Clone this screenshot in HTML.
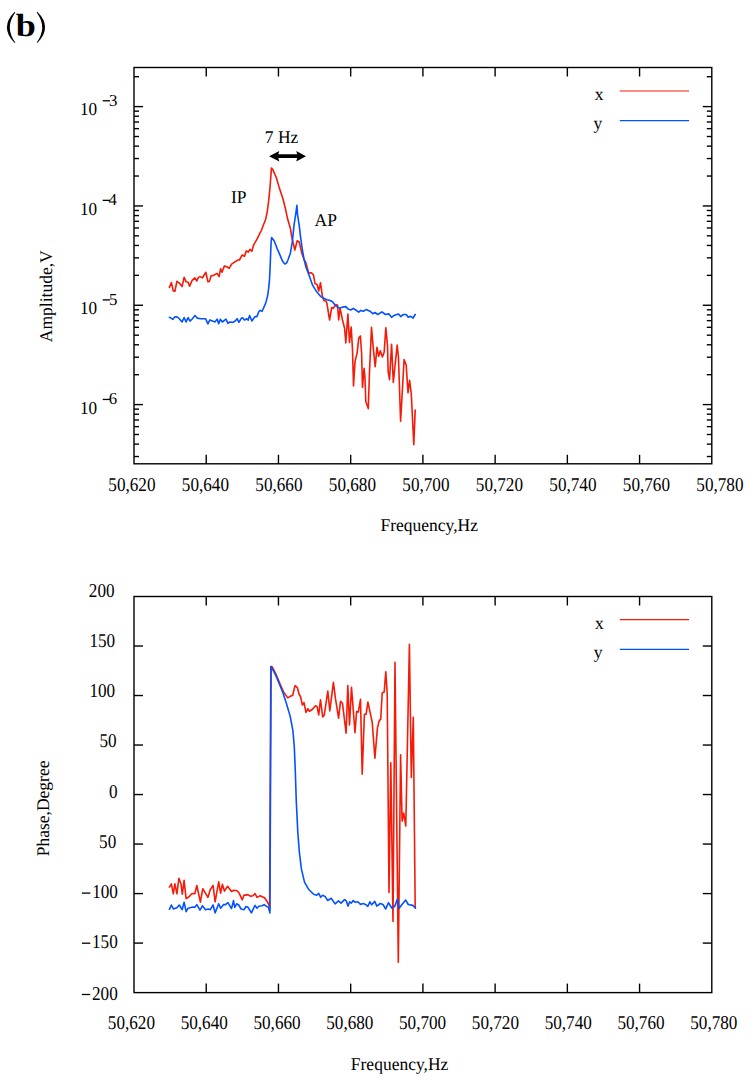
<!DOCTYPE html>
<html><head><meta charset="utf-8"><style>
html,body{margin:0;padding:0;background:#fff;}
svg{display:block;font-family:"Liberation Serif",serif;text-rendering:geometricPrecision;}
</style></head><body>
<svg width="755" height="1082" viewBox="0 0 755 1082">
<rect width="755" height="1082" fill="#fff"/>
<rect x="134" y="67.5" width="577.8" height="396.3" fill="none" stroke="#000" stroke-width="1.4"/>
<line x1="206.22" y1="463.8" x2="206.22" y2="454.8" stroke="#000" stroke-width="1.4"/>
<line x1="206.22" y1="67.5" x2="206.22" y2="76.5" stroke="#000" stroke-width="1.4"/>
<line x1="278.45" y1="463.8" x2="278.45" y2="454.8" stroke="#000" stroke-width="1.4"/>
<line x1="278.45" y1="67.5" x2="278.45" y2="76.5" stroke="#000" stroke-width="1.4"/>
<line x1="350.67" y1="463.8" x2="350.67" y2="454.8" stroke="#000" stroke-width="1.4"/>
<line x1="350.67" y1="67.5" x2="350.67" y2="76.5" stroke="#000" stroke-width="1.4"/>
<line x1="422.9" y1="463.8" x2="422.9" y2="454.8" stroke="#000" stroke-width="1.4"/>
<line x1="422.9" y1="67.5" x2="422.9" y2="76.5" stroke="#000" stroke-width="1.4"/>
<line x1="495.12" y1="463.8" x2="495.12" y2="454.8" stroke="#000" stroke-width="1.4"/>
<line x1="495.12" y1="67.5" x2="495.12" y2="76.5" stroke="#000" stroke-width="1.4"/>
<line x1="567.35" y1="463.8" x2="567.35" y2="454.8" stroke="#000" stroke-width="1.4"/>
<line x1="567.35" y1="67.5" x2="567.35" y2="76.5" stroke="#000" stroke-width="1.4"/>
<line x1="639.57" y1="463.8" x2="639.57" y2="454.8" stroke="#000" stroke-width="1.4"/>
<line x1="639.57" y1="67.5" x2="639.57" y2="76.5" stroke="#000" stroke-width="1.4"/>
<rect x="134" y="596.5" width="577.8" height="396.1" fill="none" stroke="#000" stroke-width="1.4"/>
<line x1="206.22" y1="992.6" x2="206.22" y2="983.6" stroke="#000" stroke-width="1.4"/>
<line x1="206.22" y1="596.5" x2="206.22" y2="605.5" stroke="#000" stroke-width="1.4"/>
<line x1="278.45" y1="992.6" x2="278.45" y2="983.6" stroke="#000" stroke-width="1.4"/>
<line x1="278.45" y1="596.5" x2="278.45" y2="605.5" stroke="#000" stroke-width="1.4"/>
<line x1="350.67" y1="992.6" x2="350.67" y2="983.6" stroke="#000" stroke-width="1.4"/>
<line x1="350.67" y1="596.5" x2="350.67" y2="605.5" stroke="#000" stroke-width="1.4"/>
<line x1="422.9" y1="992.6" x2="422.9" y2="983.6" stroke="#000" stroke-width="1.4"/>
<line x1="422.9" y1="596.5" x2="422.9" y2="605.5" stroke="#000" stroke-width="1.4"/>
<line x1="495.12" y1="992.6" x2="495.12" y2="983.6" stroke="#000" stroke-width="1.4"/>
<line x1="495.12" y1="596.5" x2="495.12" y2="605.5" stroke="#000" stroke-width="1.4"/>
<line x1="567.35" y1="992.6" x2="567.35" y2="983.6" stroke="#000" stroke-width="1.4"/>
<line x1="567.35" y1="596.5" x2="567.35" y2="605.5" stroke="#000" stroke-width="1.4"/>
<line x1="639.57" y1="992.6" x2="639.57" y2="983.6" stroke="#000" stroke-width="1.4"/>
<line x1="639.57" y1="596.5" x2="639.57" y2="605.5" stroke="#000" stroke-width="1.4"/>
<line x1="134" y1="456.53" x2="139" y2="456.53" stroke="#000" stroke-width="1.4"/>
<line x1="711.8" y1="456.53" x2="706.8" y2="456.53" stroke="#000" stroke-width="1.4"/>
<line x1="134" y1="444.12" x2="139" y2="444.12" stroke="#000" stroke-width="1.4"/>
<line x1="711.8" y1="444.12" x2="706.8" y2="444.12" stroke="#000" stroke-width="1.4"/>
<line x1="134" y1="434.49" x2="139" y2="434.49" stroke="#000" stroke-width="1.4"/>
<line x1="711.8" y1="434.49" x2="706.8" y2="434.49" stroke="#000" stroke-width="1.4"/>
<line x1="134" y1="426.63" x2="139" y2="426.63" stroke="#000" stroke-width="1.4"/>
<line x1="711.8" y1="426.63" x2="706.8" y2="426.63" stroke="#000" stroke-width="1.4"/>
<line x1="134" y1="419.98" x2="139" y2="419.98" stroke="#000" stroke-width="1.4"/>
<line x1="711.8" y1="419.98" x2="706.8" y2="419.98" stroke="#000" stroke-width="1.4"/>
<line x1="134" y1="414.22" x2="139" y2="414.22" stroke="#000" stroke-width="1.4"/>
<line x1="711.8" y1="414.22" x2="706.8" y2="414.22" stroke="#000" stroke-width="1.4"/>
<line x1="134" y1="409.14" x2="139" y2="409.14" stroke="#000" stroke-width="1.4"/>
<line x1="711.8" y1="409.14" x2="706.8" y2="409.14" stroke="#000" stroke-width="1.4"/>
<line x1="134" y1="404.59" x2="143" y2="404.59" stroke="#000" stroke-width="1.4"/>
<line x1="711.8" y1="404.59" x2="702.8" y2="404.59" stroke="#000" stroke-width="1.4"/>
<line x1="134" y1="374.69" x2="139" y2="374.69" stroke="#000" stroke-width="1.4"/>
<line x1="711.8" y1="374.69" x2="706.8" y2="374.69" stroke="#000" stroke-width="1.4"/>
<line x1="134" y1="357.2" x2="139" y2="357.2" stroke="#000" stroke-width="1.4"/>
<line x1="711.8" y1="357.2" x2="706.8" y2="357.2" stroke="#000" stroke-width="1.4"/>
<line x1="134" y1="344.79" x2="139" y2="344.79" stroke="#000" stroke-width="1.4"/>
<line x1="711.8" y1="344.79" x2="706.8" y2="344.79" stroke="#000" stroke-width="1.4"/>
<line x1="134" y1="335.16" x2="139" y2="335.16" stroke="#000" stroke-width="1.4"/>
<line x1="711.8" y1="335.16" x2="706.8" y2="335.16" stroke="#000" stroke-width="1.4"/>
<line x1="134" y1="327.3" x2="139" y2="327.3" stroke="#000" stroke-width="1.4"/>
<line x1="711.8" y1="327.3" x2="706.8" y2="327.3" stroke="#000" stroke-width="1.4"/>
<line x1="134" y1="320.65" x2="139" y2="320.65" stroke="#000" stroke-width="1.4"/>
<line x1="711.8" y1="320.65" x2="706.8" y2="320.65" stroke="#000" stroke-width="1.4"/>
<line x1="134" y1="314.89" x2="139" y2="314.89" stroke="#000" stroke-width="1.4"/>
<line x1="711.8" y1="314.89" x2="706.8" y2="314.89" stroke="#000" stroke-width="1.4"/>
<line x1="134" y1="309.81" x2="139" y2="309.81" stroke="#000" stroke-width="1.4"/>
<line x1="711.8" y1="309.81" x2="706.8" y2="309.81" stroke="#000" stroke-width="1.4"/>
<line x1="134" y1="305.26" x2="143" y2="305.26" stroke="#000" stroke-width="1.4"/>
<line x1="711.8" y1="305.26" x2="702.8" y2="305.26" stroke="#000" stroke-width="1.4"/>
<line x1="134" y1="275.36" x2="139" y2="275.36" stroke="#000" stroke-width="1.4"/>
<line x1="711.8" y1="275.36" x2="706.8" y2="275.36" stroke="#000" stroke-width="1.4"/>
<line x1="134" y1="257.87" x2="139" y2="257.87" stroke="#000" stroke-width="1.4"/>
<line x1="711.8" y1="257.87" x2="706.8" y2="257.87" stroke="#000" stroke-width="1.4"/>
<line x1="134" y1="245.46" x2="139" y2="245.46" stroke="#000" stroke-width="1.4"/>
<line x1="711.8" y1="245.46" x2="706.8" y2="245.46" stroke="#000" stroke-width="1.4"/>
<line x1="134" y1="235.83" x2="139" y2="235.83" stroke="#000" stroke-width="1.4"/>
<line x1="711.8" y1="235.83" x2="706.8" y2="235.83" stroke="#000" stroke-width="1.4"/>
<line x1="134" y1="227.97" x2="139" y2="227.97" stroke="#000" stroke-width="1.4"/>
<line x1="711.8" y1="227.97" x2="706.8" y2="227.97" stroke="#000" stroke-width="1.4"/>
<line x1="134" y1="221.32" x2="139" y2="221.32" stroke="#000" stroke-width="1.4"/>
<line x1="711.8" y1="221.32" x2="706.8" y2="221.32" stroke="#000" stroke-width="1.4"/>
<line x1="134" y1="215.56" x2="139" y2="215.56" stroke="#000" stroke-width="1.4"/>
<line x1="711.8" y1="215.56" x2="706.8" y2="215.56" stroke="#000" stroke-width="1.4"/>
<line x1="134" y1="210.48" x2="139" y2="210.48" stroke="#000" stroke-width="1.4"/>
<line x1="711.8" y1="210.48" x2="706.8" y2="210.48" stroke="#000" stroke-width="1.4"/>
<line x1="134" y1="205.93" x2="143" y2="205.93" stroke="#000" stroke-width="1.4"/>
<line x1="711.8" y1="205.93" x2="702.8" y2="205.93" stroke="#000" stroke-width="1.4"/>
<line x1="134" y1="176.03" x2="139" y2="176.03" stroke="#000" stroke-width="1.4"/>
<line x1="711.8" y1="176.03" x2="706.8" y2="176.03" stroke="#000" stroke-width="1.4"/>
<line x1="134" y1="158.54" x2="139" y2="158.54" stroke="#000" stroke-width="1.4"/>
<line x1="711.8" y1="158.54" x2="706.8" y2="158.54" stroke="#000" stroke-width="1.4"/>
<line x1="134" y1="146.13" x2="139" y2="146.13" stroke="#000" stroke-width="1.4"/>
<line x1="711.8" y1="146.13" x2="706.8" y2="146.13" stroke="#000" stroke-width="1.4"/>
<line x1="134" y1="136.5" x2="139" y2="136.5" stroke="#000" stroke-width="1.4"/>
<line x1="711.8" y1="136.5" x2="706.8" y2="136.5" stroke="#000" stroke-width="1.4"/>
<line x1="134" y1="128.64" x2="139" y2="128.64" stroke="#000" stroke-width="1.4"/>
<line x1="711.8" y1="128.64" x2="706.8" y2="128.64" stroke="#000" stroke-width="1.4"/>
<line x1="134" y1="121.99" x2="139" y2="121.99" stroke="#000" stroke-width="1.4"/>
<line x1="711.8" y1="121.99" x2="706.8" y2="121.99" stroke="#000" stroke-width="1.4"/>
<line x1="134" y1="116.23" x2="139" y2="116.23" stroke="#000" stroke-width="1.4"/>
<line x1="711.8" y1="116.23" x2="706.8" y2="116.23" stroke="#000" stroke-width="1.4"/>
<line x1="134" y1="111.15" x2="139" y2="111.15" stroke="#000" stroke-width="1.4"/>
<line x1="711.8" y1="111.15" x2="706.8" y2="111.15" stroke="#000" stroke-width="1.4"/>
<line x1="134" y1="106.6" x2="143" y2="106.6" stroke="#000" stroke-width="1.4"/>
<line x1="711.8" y1="106.6" x2="702.8" y2="106.6" stroke="#000" stroke-width="1.4"/>
<line x1="134" y1="76.7" x2="139" y2="76.7" stroke="#000" stroke-width="1.4"/>
<line x1="711.8" y1="76.7" x2="706.8" y2="76.7" stroke="#000" stroke-width="1.4"/>
<line x1="134" y1="943.09" x2="143" y2="943.09" stroke="#000" stroke-width="1.4"/>
<line x1="711.8" y1="943.09" x2="702.8" y2="943.09" stroke="#000" stroke-width="1.4"/>
<line x1="134" y1="893.58" x2="143" y2="893.58" stroke="#000" stroke-width="1.4"/>
<line x1="711.8" y1="893.58" x2="702.8" y2="893.58" stroke="#000" stroke-width="1.4"/>
<line x1="134" y1="844.06" x2="143" y2="844.06" stroke="#000" stroke-width="1.4"/>
<line x1="711.8" y1="844.06" x2="702.8" y2="844.06" stroke="#000" stroke-width="1.4"/>
<line x1="134" y1="794.55" x2="143" y2="794.55" stroke="#000" stroke-width="1.4"/>
<line x1="711.8" y1="794.55" x2="702.8" y2="794.55" stroke="#000" stroke-width="1.4"/>
<line x1="134" y1="745.04" x2="143" y2="745.04" stroke="#000" stroke-width="1.4"/>
<line x1="711.8" y1="745.04" x2="702.8" y2="745.04" stroke="#000" stroke-width="1.4"/>
<line x1="134" y1="695.52" x2="143" y2="695.52" stroke="#000" stroke-width="1.4"/>
<line x1="711.8" y1="695.52" x2="702.8" y2="695.52" stroke="#000" stroke-width="1.4"/>
<line x1="134" y1="646.01" x2="143" y2="646.01" stroke="#000" stroke-width="1.4"/>
<line x1="711.8" y1="646.01" x2="702.8" y2="646.01" stroke="#000" stroke-width="1.4"/>
<polyline points="169.4,287.4 171.4,282.6 173.3,290.9 174.9,291.3 176.9,281.4 179.7,283.4 182.1,286.6 184.1,277.4 186.1,281.8 188.1,282.2 189.6,286.2 192,280.6 194.8,277.8 196.8,281 198.4,277.4 200,276.6 202.4,277.8 205.9,272.3 207.9,281.8 209.5,281.4 211.1,275.8 212.7,275.8 217.1,273.4 219.1,276.6 220.6,268.7 222,272.2 224.3,266.1 226.5,266.5 229.2,268.4 231.6,264.2 234.8,261.9 238,260 239.4,260 242.2,255 244.5,256.3 246.3,250.8 248.2,252.2 250,249.4 251.9,251.3 253.7,244.8 257,239.2 259.7,233.7 261.6,230 262.9,226.2 265.7,219.2 267.2,211.8 268.7,200.7 269.8,189.6 270.7,178.5 271.4,168.1 272.8,169.6 276.4,177.8 279.5,188.6 282.8,198.2 285.2,207.7 287.6,218.8 290.4,228.5 292,238 294.8,250 297.2,240.8 299.2,242 301.6,252.4 304,259.5 305.8,262.5 308.7,273.1 311.5,272.7 313.5,275.1 315.1,283.8 317.1,284.6 318.7,291 320.5,282.7 322.3,295.8 323.8,300.5 326.2,301.3 326.9,303.3 329.6,320 331.7,307.5 333.3,308.3 335.8,304.6 337.5,305 338.7,320 340,308.3 340.8,311.6 342.5,320 344.6,328.3 345.8,342.9 347.9,314.1 349.5,342.4 351.2,327 352.5,350 353.5,386 355,361.6 357.1,353.3 358.7,338.3 360.4,336 361.6,353.2 362.5,387.4 364.1,368.3 365,378.3 365.8,401.5 368.3,408.6 369.5,371.6 371.5,327.4 372.9,344.1 375.2,366.6 377,347.3 378.7,356.3 380.3,350.8 382.4,357 384.2,352 385.8,327.7 387.5,345.7 388.2,372 389.5,379.6 391.6,344.3 393.3,382.4 397.2,345 398.5,358.2 400.6,421.2 404.1,359.6 406.2,365.1 408,392.8 409.6,380.3 411.3,394.2 413.8,444.7 415.2,410.1" fill="none" stroke="#f61a08" stroke-width="1.6" stroke-linejoin="round" stroke-linecap="round"/>
<polyline points="169.4,317.3 171,318.1 172.9,319.3 174.5,317.1 176.5,316.7 179.3,318.7 182.1,321.9 184.1,317.5 186.1,321.9 188.1,317.6 190,321.1 192.4,318.7 195,315.5 197.2,318.1 200.8,318.7 205.5,318.7 207.9,323.8 209.9,319.9 215.1,321.9 217.1,319.1 218.7,323.8 220.3,319.3 222.3,322 226,319.2 227.9,323.3 229.7,322 232.9,322.4 235.2,321 237.1,318.7 238.9,322.4 241.3,318.3 242.6,317.8 244.5,320.1 246.8,318.7 248.2,320.1 249.6,315.5 251.9,321 254.7,316.9 257,316.4 258.8,311.8 260.2,310.4 262.1,311.3 265.6,303.4 267.5,296.5 268.7,288.2 269.5,279.9 270.1,267.4 270.6,254.9 271.1,242.5 271.6,237.5 274.1,240.8 277.4,249.1 279.9,254.9 282.5,261.1 284,263.1 285.4,264 286.8,262.7 288.1,259.5 290.4,253.2 292.4,241.2 294,225.3 295.6,215 296.9,205.3 297.6,215 299.2,225.3 300.8,238.8 302.4,250 304,259 306,267.2 308.7,274.3 312.7,285.4 316.7,291.8 320.7,296.6 323.8,298.2 327,299.7 330.2,300.5 332.5,301.7 335,305 337.5,307.1 340,308.3 342.5,307.1 345.8,306.6 348.3,309.1 350.8,310 353.3,308.3 355.8,310 358.7,312.1 360.8,310.4 363.3,311.2 366.2,309.6 369.9,311.2 372.8,313.7 374.9,312.5 377.8,314.5 381.9,311.8 385.4,314.5 388.9,313.9 391.6,317.3 394.4,315.2 398.5,313.9 400.6,316.6 403.4,314.5 406.2,314.5 408.2,317.3 410.3,316.3 413.1,318 415.2,314.5" fill="none" stroke="#0452ff" stroke-width="1.6" stroke-linejoin="round" stroke-linecap="round"/>
<polyline points="169.4,887.1 171.4,883.9 173.3,893.8 174.9,883.9 176.9,893.8 178.9,878.3 180.9,883.5 182.3,894.2 184.1,880.3 186.1,898.6 188.8,897 192,893.5 194.8,893.8 196.8,885.5 200.4,902.2 202.8,888.7 207.9,897.4 210.3,889.5 213.1,885.5 215.1,901.8 218.7,881.9 220.6,893.1 222.4,884.3 224.4,891.1 227.6,886.3 231.5,891.5 233.9,890.3 237.1,890.7 239.1,893.1 242.3,899.8 243.8,895.4 247.8,894.6 250.6,896.2 253,895.8 255,893.5 257,897.4 260.1,895.8 264.5,897.8 267.3,901.8 268.9,905 269.6,910 270.8,666.6 272.2,666.9 276.4,675.2 280.4,684.7 283.5,691.9 287.8,697.9 290.2,696.3 292.6,695.5 295,685.6 297.4,687.6 299,694 300.5,696.7 302.4,705 304,702.6 306,712.5 307.9,708.6 309.5,711.3 312.7,709 315.5,705.8 317.1,706.6 318.7,714.9 320.5,699.8 322.7,716.9 324.2,715.3 327.8,691.1 329.8,710.9 333.4,682.3 335.4,698.2 338.6,718.1 340.5,701.4 342.5,703.4 346.1,733.2 347.8,685.5 349.5,724.9 351.5,687.2 355,732.6 356.6,711.6 358.3,712.1 360.5,699.4 362.2,774.2 364.4,714.3 366.1,714.3 367.9,702.1 372.2,722.1 374.9,758.1 377.5,727.4 379.4,720.3 380.7,719.5 382.2,693 384.2,692 385.8,671.8 387.2,693 389,892.5 390.8,762.8 393,921.5 395,662.4 398.3,962.3 400.6,754.7 402.1,821.1 403.7,813 405.8,826 409.4,644.3 411.3,777.4 413.3,717.2 415.2,907.5" fill="none" stroke="#f61a08" stroke-width="1.6" stroke-linejoin="round" stroke-linecap="round"/>
<polyline points="169.4,909.3 171.4,905 173.3,908.9 176.9,907.8 179.3,905 182.1,909.7 184.1,902.2 186.1,911.7 188.1,908.2 192.8,907 194.8,907.4 196.8,904.6 200,910.1 202.4,905.8 205.5,909.7 208.3,909 210.3,909.7 213.1,905 215.1,912.9 218.7,903.8 220.6,908.2 223.6,904.6 225.6,904.6 227.9,902.6 231.5,908.6 233.5,900.6 234.7,907.4 236.7,903.8 238.7,905 241.1,909 244.2,909.7 245.8,906.6 247.8,907 251.4,912.9 255,905.4 257,908.2 258.9,906.2 262.1,905.8 264.1,904.6 266.9,906.6 268.5,907.4 269.9,912.9 271.1,666.5 275.9,675.7 279.9,685.2 283.1,693.2 286.2,702.7 290.2,716.4 292.9,730.7 294.3,746.9 295.3,771.3 296.3,801.8 297.8,832.3 299.4,852.6 301.4,868.9 304.5,882.1 308.5,889.2 313.6,894.3 316.7,895.3 318.7,893.3 320.7,897.3 322.6,895.2 325.2,896.6 327.7,900.5 331.2,898.3 335.1,903.9 338.5,900.9 341.1,903.1 344.5,899.6 346.3,900.9 348,906.1 349.7,901.8 351.4,903.1 353.1,900.5 354.9,902.2 357.9,901.8 360.5,904.4 363,903.5 365.6,904.4 367.8,906.5 369.9,901.8 371.7,904.8 374.7,901.4 376.8,906.1 380.3,903.5 383,904.5 385.7,909 388.4,902.7 392,908.2 394.7,906.4 397.4,899.1 399.2,908.2 402,904.5 405.6,900 408.3,904.5 412.8,905.4 415.5,908.2" fill="none" stroke="#0452ff" stroke-width="1.6" stroke-linejoin="round" stroke-linecap="round"/>
<line x1="619.8" y1="91" x2="689.1" y2="91" stroke="#f61a08" stroke-width="1.2"/>
<line x1="619.8" y1="120.6" x2="689.1" y2="120.6" stroke="#0452ff" stroke-width="1.4"/>
<line x1="619.8" y1="619.6" x2="689.1" y2="619.6" stroke="#f61a08" stroke-width="1.4"/>
<line x1="619.8" y1="649.4" x2="689.1" y2="649.4" stroke="#0452ff" stroke-width="1.4"/>
<text transform="translate(108.33,490.6) scale(0.98,1.12)" font-size="17.5" >50,620</text>
<text transform="translate(107.83,1029) scale(0.98,1.12)" font-size="17.5" >50,620</text>
<text transform="translate(181.83,490.6) scale(0.98,1.12)" font-size="17.5" >50,640</text>
<text transform="translate(180.63,1029) scale(0.98,1.12)" font-size="17.5" >50,640</text>
<text transform="translate(255.34,490.6) scale(0.98,1.12)" font-size="17.5" >50,660</text>
<text transform="translate(253.44,1029) scale(0.98,1.12)" font-size="17.5" >50,660</text>
<text transform="translate(328.84,490.6) scale(0.98,1.12)" font-size="17.5" >50,680</text>
<text transform="translate(326.24,1029) scale(0.98,1.12)" font-size="17.5" >50,680</text>
<text transform="translate(402.34,490.6) scale(0.98,1.12)" font-size="17.5" >50,700</text>
<text transform="translate(399.03,1029) scale(0.98,1.12)" font-size="17.5" >50,700</text>
<text transform="translate(475.84,490.6) scale(0.98,1.12)" font-size="17.5" >50,720</text>
<text transform="translate(471.84,1029) scale(0.98,1.12)" font-size="17.5" >50,720</text>
<text transform="translate(549.34,490.6) scale(0.98,1.12)" font-size="17.5" >50,740</text>
<text transform="translate(544.63,1029) scale(0.98,1.12)" font-size="17.5" >50,740</text>
<text transform="translate(622.84,490.6) scale(0.98,1.12)" font-size="17.5" >50,760</text>
<text transform="translate(617.43,1029) scale(0.98,1.12)" font-size="17.5" >50,760</text>
<text transform="translate(696.34,490.6) scale(0.98,1.12)" font-size="17.5" >50,780</text>
<text transform="translate(690.24,1029) scale(0.98,1.12)" font-size="17.5" >50,780</text>
<text transform="translate(380.5,530.75) scale(1.0,1.02)" font-size="17.5" >Frequency,Hz</text>
<text transform="translate(350.8,1069.7) scale(1.0,1.02)" font-size="17.5" >Frequency,Hz</text>
<text transform="translate(79.93,115) scale(0.98,1.05)" font-size="17.5" >10</text>
<rect x="102.7" y="100.15" width="7.3" height="1.3" fill="#000"/>
<text transform="translate(108.92,105.5) scale(0.96,0.96)" font-size="17.5" >3</text>
<text transform="translate(79.93,214.55) scale(0.98,1.05)" font-size="17.5" >10</text>
<rect x="102.7" y="199.7" width="7.3" height="1.3" fill="#000"/>
<text transform="translate(108.44,205.05) scale(0.96,0.96)" font-size="17.5" >4</text>
<text transform="translate(79.93,314.1) scale(0.98,1.05)" font-size="17.5" >10</text>
<rect x="102.7" y="299.25" width="7.3" height="1.3" fill="#000"/>
<text transform="translate(108.92,304.6) scale(0.96,0.96)" font-size="17.5" >5</text>
<text transform="translate(79.93,413.65) scale(0.98,1.05)" font-size="17.5" >10</text>
<rect x="102.7" y="398.8" width="7.3" height="1.3" fill="#000"/>
<text transform="translate(108.68,404.15) scale(0.96,0.96)" font-size="17.5" >6</text>
<text transform="translate(88.81,596.9) scale(0.98,1.12)" font-size="17.5" >200</text>
<text transform="translate(89.41,647) scale(0.98,1.12)" font-size="17.5" >150</text>
<text transform="translate(89.41,697.4) scale(0.98,1.12)" font-size="17.5" >100</text>
<text transform="translate(99.38,747.1) scale(0.98,1.12)" font-size="17.5" >50</text>
<text transform="translate(109.06,797.8) scale(0.98,1.12)" font-size="17.5" >0</text>
<text transform="translate(99.09,847.9) scale(0.98,1.12)" font-size="17.5" >50</text>
<text transform="translate(92.21,898.1) scale(0.98,1.12)" font-size="17.5" >100</text>
<rect x="81.9" y="892.45" width="8.4" height="1.3" fill="#000"/>
<text transform="translate(92.01,948.2) scale(0.98,1.12)" font-size="17.5" >150</text>
<rect x="81.9" y="942.55" width="8.4" height="1.3" fill="#000"/>
<text transform="translate(92.01,999.5) scale(0.98,1.12)" font-size="17.5" >200</text>
<rect x="81.9" y="993.85" width="8.4" height="1.3" fill="#000"/>
<text transform="translate(594.65,99.6) scale(1.0,1.02)" font-size="17.5" >x</text>
<text transform="translate(593.45,129.25) scale(1.0,1.02)" font-size="17.5" >y</text>
<text transform="translate(594.95,628.9) scale(1.0,1.02)" font-size="17.5" >x</text>
<text transform="translate(593.65,657.5) scale(1.0,1.02)" font-size="17.5" >y</text>
<text transform="translate(264.85,142.7) scale(1.0,1.02)" font-size="17.5" >7 Hz</text>
<text transform="translate(230.95,203.1) scale(1.0,1.02)" font-size="17.5" >IP</text>
<text transform="translate(314.55,226.1) scale(1.0,1.02)" font-size="17.5" >AP</text>
<path d="M269.1,156.2 L279.3,151 L278.3,154.3 L297.2,154.3 L296.2,151 L306,156.2 L296.2,161.4 L297.2,158.1 L278.3,158.1 L279.3,161.4 Z" fill="#000"/>
<text transform="translate(51.6,342.15) rotate(-90) scale(1.0,1.02)" font-size="17.5">Amplitude,V</text>
<text transform="translate(48.8,856.3) rotate(-90) scale(1.0,1.02)" font-size="17.5">Phase,Degree</text>
<path d="M14.7,11.8 Q-0.9,27.4 14.7,43.0 L15.3,42.4 Q4.3,27.4 15.3,12.4 Z" fill="#000"/>
<path d="M37.3,11.8 Q52.9,27.4 37.3,43.0 L36.7,42.4 Q47.7,27.4 36.7,12.4 Z" fill="#000"/>
<text transform="translate(15.7,35.9) scale(1.13,1)" font-size="32" font-weight="bold">b</text>
</svg>
</body></html>
